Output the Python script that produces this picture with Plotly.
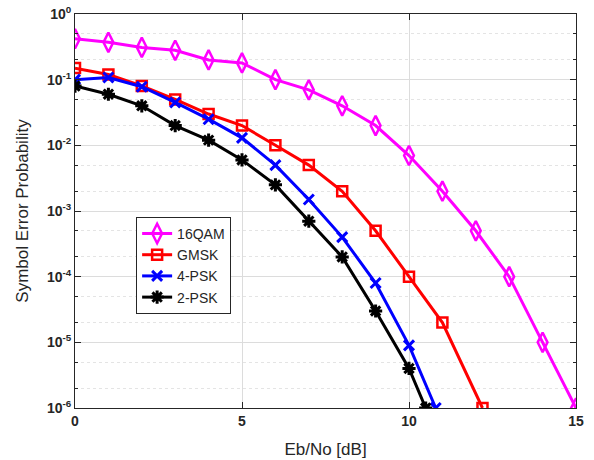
import plotly.graph_objects as go

ebno = list(range(0, 16))
qam16 = [0.42, 0.37, 0.31, 0.28, 0.20, 0.18, 0.10, 0.07, 0.04, 0.02, 0.007, 0.002, 5e-4, 1e-4, 1e-5, 1e-6]

ebno_gmsk = [0, 1, 2, 3, 4, 5, 6, 7, 8, 9, 10, 11, 12.2]
gmsk = [0.15, 0.12, 0.08, 0.05, 0.03, 0.02, 0.01, 0.005, 0.002, 5e-4, 1e-4, 2e-5, 1e-6]

ebno_4psk = [0, 1, 2, 3, 4, 5, 6, 7, 8, 9, 10, 10.8]
psk4 = [0.10, 0.108, 0.078, 0.045, 0.025, 0.013, 0.005, 0.0015, 4e-4, 8e-5, 9e-6, 1e-6]

ebno_2psk = [0, 1, 2, 3, 4, 5, 6, 7, 8, 9, 10, 10.5]
psk2 = [0.08, 0.06, 0.04, 0.02, 0.012, 0.006, 0.0025, 7e-4, 2e-4, 3e-5, 4e-6, 1e-6]

y_tickvals = [1e-6, 1e-5, 1e-4, 1e-3, 1e-2, 1e-1, 1]
y_ticktext = ["10<sup>-6</sup>", "10<sup>-5</sup>", "10<sup>-4</sup>", "10<sup>-3</sup>",
              "10<sup>-2</sup>", "10<sup>-1</sup>", "10<sup>0</sup>"]
x_tickvals = [0, 5, 10, 15]

fig = go.Figure()
fig.add_trace(go.Scatter(x=ebno, y=qam16, name="16QAM", mode="lines+markers",
                         line=dict(color="#FF00FF", width=3),
                         marker=dict(symbol="diamond-tall-open", size=14, color="#FF00FF",
                                     line=dict(width=2.5, color="#FF00FF"))))
fig.add_trace(go.Scatter(x=ebno_gmsk, y=gmsk, name="GMSK", mode="lines+markers",
                         line=dict(color="#FF0000", width=3),
                         marker=dict(symbol="square-open", size=10, color="#FF0000",
                                     line=dict(width=2.5, color="#FF0000"))))
fig.add_trace(go.Scatter(x=ebno_4psk, y=psk4, name="4-PSK", mode="lines+markers",
                         line=dict(color="#0000FF", width=3),
                         marker=dict(symbol="x-thin-open", size=10, color="#0000FF",
                                     line=dict(width=3, color="#0000FF"))))
fig.add_trace(go.Scatter(x=ebno_2psk, y=psk2, name="2-PSK", mode="lines+markers",
                         line=dict(color="#000000", width=3),
                         marker=dict(symbol="asterisk-open", size=11, color="#000000",
                                     line=dict(width=3, color="#000000"))))

tickfont = dict(family="Liberation Sans, Arial", size=14, color="#262626", weight="bold")

fig.update_layout(
    width=594, height=460,
    margin=dict(l=75, r=18, t=14, b=52),
    paper_bgcolor="white", plot_bgcolor="white",
    font=dict(family="Liberation Sans, Arial", color="#262626"),
    xaxis=dict(range=[0, 15], tickvals=x_tickvals, ticks="inside", ticklen=6,
               tickcolor="#262626", showline=True, linecolor="#262626", linewidth=1,
               mirror="ticks", showgrid=True, gridcolor="#DCDCDC", gridwidth=1,
               zeroline=False, tickfont=tickfont, automargin=False,
               ticklabeloverflow="allow",
               title=dict(text="Eb/No [dB]", font=dict(size=17, color="#262626"), standoff=15)),
    yaxis=dict(type="log", range=[-6, 0], tickvals=y_tickvals, ticktext=y_ticktext,
               ticks="inside", ticklen=6, tickcolor="#262626", showline=True,
               linecolor="#262626", linewidth=1, mirror="ticks", showgrid=True,
               gridcolor="#DCDCDC", gridwidth=1, zeroline=False, tickfont=tickfont,
               automargin=False, ticklabeloverflow="allow",
               minor=dict(ticks="inside", ticklen=3, tickcolor="#262626", showgrid=True,
                          gridcolor="#E4E4E4", griddash="dot", gridwidth=1),
               title=dict(text="Symbol Error Probability", font=dict(size=17, color="#262626"),
                          standoff=13)),
    legend=dict(x=0.122, y=0.485, xanchor="left", yanchor="top",
                bordercolor="#262626", borderwidth=1, bgcolor="white",
                font=dict(size=14, color="#262626"), tracegroupgap=0),
    showlegend=True,
)

fig.write_html("out.html", config={"displayModeBar": False},
               post_script="document.body.style.margin='0';")
